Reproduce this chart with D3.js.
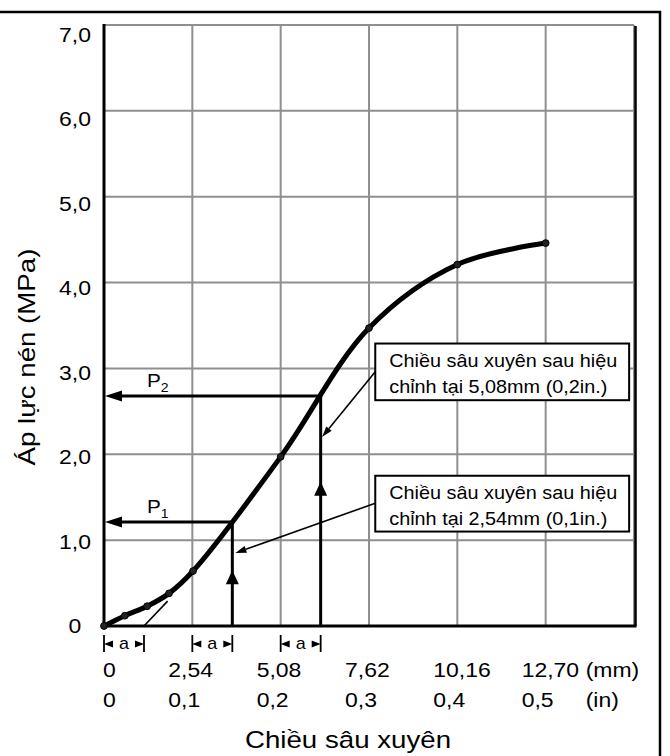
<!DOCTYPE html>
<html>
<head>
<meta charset="utf-8">
<script src="https://cdn.jsdelivr.net/npm/d3@7"></script>
<style>
  body { margin: 0; background: #fff; }
  svg { display: block; font-family: "Liberation Sans", Arial, sans-serif; }
</style>
</head>
<body>
<div id="container"><svg></svg></div>
<script>
// measured points of the load curve
const depthMm = [0, 0.60, 1.24, 1.87, 2.56, 5.08, 7.62, 10.16, 12.70];
const pressureMPa = [0, 0.12, 0.23, 0.38, 0.64, 1.97, 3.47, 4.21, 4.46];

// axis ticks
const yTicks = [0, 1, 2, 3, 4, 5, 6, 7];
const yTickLabels = ['0', '1,0', '2,0', '3,0', '4,0', '5,0', '6,0', '7,0'];
const xTicksMm = [0, 2.54, 5.08, 7.62, 10.16, 12.70];
const xLabelsMm = ['0', '2,54', '5,08', '7,62', '10,16', '12,70'];
const xLabelsIn = ['0', '0,1', '0,2', '0,3', '0,4', '0,5'];
const xGrid = [2.54, 5.08, 7.62, 10.16, 12.70, 15.24];

// correction: zero shift "a", corrected depths and read pressures
const zeroShift = 1.15;
const correctedDepths = [2.54, 5.08];
const readPressures = [1.21, 2.68];
const upArrowAt = [0.65, 1.68];
const pNames = ['1', '2'];
const tangent = [[1.15, 0], [1.83, 0.29]];

// annotation boxes (data units) and leader lines
const boxTexts = [
    ['Chiều sâu xuyên sau hiệu', 'chỉnh tại 2,54mm (0,1in.)'],
    ['Chiều sâu xuyên sau hiệu', 'chỉnh tại 5,08mm (0,2in.)']
];
const boxTop = [1.75, 3.29];
const boxBottom = [1.10, 2.63];
const boxLeft = 7.80, boxRight = 15.10;
const leaderFrom = [[7.80, 1.43], [7.80, 2.96]];
const leaderTo = [[3.78, 0.85], [6.27, 2.20]];

const width = 670, height = 756;
const SX = 1.12; // text in the picture is a bit wider than Arial

const svg = d3.select('svg').attr('width', width).attr('height', height);

const x = d3.scaleLinear().domain([0, 15.24]).range([104, 634]);
const y = d3.scaleLinear().domain([0, 7]).range([626, 25]);
const yLab = d3.scaleLinear().domain([0, 7]).range([633, 42]);

function label(g, px, py, str, size, anchor, rot) {
    return g.append('text')
        .attr('transform', `translate(${px},${py})${rot ? ' rotate(' + rot + ')' : ''} scale(${SX},1)`)
        .attr('font-size', size)
        .attr('text-anchor', anchor || 'start')
        .attr('fill', '#000')
        .text(str);
}

// outer frame (top and right only)
svg.append('path')
    .attr('d', `M0,12 H660 V${height}`)
    .attr('fill', 'none').attr('stroke', '#000').attr('stroke-width', 2.5);

// grid
const grid = svg.append('g').attr('stroke', '#8f8f8f').attr('stroke-width', 2);
grid.selectAll('line.h').data(yTicks.slice(1)).enter().append('line')
    .attr('x1', x(0)).attr('x2', x(15.24))
    .attr('y1', d => y(d)).attr('y2', d => y(d));
grid.selectAll('line.v').data(xGrid).enter().append('line')
    .attr('x1', d => x(d)).attr('x2', d => x(d))
    .attr('y1', y(0)).attr('y2', y(7));

// right edge + axes
svg.append('line').attr('x1', x(15.24) + 1.5).attr('x2', x(15.24) + 1.5)
    .attr('y1', y(7) + 1).attr('y2', y(0)).attr('stroke', '#000').attr('stroke-width', 2.5);
svg.append('line').attr('x1', x(0)).attr('x2', x(0)).attr('y1', y(7) - 1).attr('y2', y(0) + 1.5)
    .attr('stroke', '#000').attr('stroke-width', 3);
svg.append('line').attr('x1', x(0) - 1.5).attr('x2', x(15.24) + 2.5).attr('y1', y(0)).attr('y2', y(0))
    .attr('stroke', '#000').attr('stroke-width', 3);

// y tick labels
const yl = svg.append('g');
yTicks.forEach((v, i) => label(yl, 75, yLab(v), yTickLabels[i], 20.5, 'middle'));

// x tick labels, two rows
const xl = svg.append('g');
xTicksMm.forEach((v, i) => {
    let px = i === 0 ? x(v) - 1 : x(v) - 24;
    label(xl, px, 677, xLabelsMm[i], 20.5);
    label(xl, px, 707, xLabelsIn[i], 20.5);
});
label(xl, x(12.70) + 40, 677, '(mm)', 20.5);
label(xl, x(12.70) + 40, 707, '(in)', 20.5);

// axis titles
label(svg, 348, 748, 'Chiều sâu xuyên', 24.7, 'middle');
label(svg, 35, 357, 'Áp lực nén (MPa)', 24.7, 'middle', -90);

// tangent used for zero correction
svg.append('line')
    .attr('x1', x(tangent[0][0])).attr('y1', y(tangent[0][1]))
    .attr('x2', x(tangent[1][0])).attr('y2', y(tangent[1][1]))
    .attr('stroke', '#000').attr('stroke-width', 1.6);

// load curve
const pts = depthMm.map((d, i) => [d, pressureMPa[i]]);
const line = d3.line().x(d => x(d[0])).y(d => y(d[1])).curve(d3.curveCatmullRom.alpha(0.5));
svg.append('path').datum(pts)
    .attr('d', line)
    .attr('fill', 'none').attr('stroke', '#000').attr('stroke-width', 5)
    .attr('stroke-linecap', 'round');
svg.append('g').selectAll('circle').data(pts).enter().append('circle')
    .attr('cx', d => x(d[0])).attr('cy', d => y(d[1])).attr('r', 3.4)
    .attr('fill', '#222').attr('stroke', '#000').attr('stroke-width', 1);

// P1 / P2 construction lines
correctedDepths.forEach((d, i) => {
    let cx = x(d + zeroShift), cy = y(readPressures[i]);
    let g = svg.append('g');
    g.append('line').attr('x1', cx).attr('x2', cx).attr('y1', y(0)).attr('y2', cy)
        .attr('stroke', '#000').attr('stroke-width', 3);
    g.append('line').attr('x1', cx).attr('x2', x(0) + 14).attr('y1', cy).attr('y2', cy)
        .attr('stroke', '#000').attr('stroke-width', 3);
    // left arrowhead at the axis
    let ax = x(0) + 1;
    g.append('path').attr('d', `M${ax},${cy} L${ax + 17},${cy - 5.5} L${ax + 17},${cy + 5.5} Z`).attr('fill', '#000');
    // up arrowhead on the vertical
    let ty = y(upArrowAt[i]);
    g.append('path').attr('d', `M${cx},${ty} L${cx - 6.5},${ty + 14} L${cx + 6.5},${ty + 14} Z`).attr('fill', '#000');
    // label
    let t = g.append('text')
        .attr('transform', `translate(${x(0) + 43},${cy - 9}) scale(${SX},1)`)
        .attr('font-size', 18.5);
    t.append('tspan').text('P');
    t.append('tspan').attr('font-size', 12.5).attr('dy', 5).text(pNames[i]);
});

// "a" dimension marks under the axis
const am = svg.append('g');
[0, 2.54, 5.08].forEach(d => {
    let x0 = x(d), x1 = x(d + zeroShift);
    [[x0, 1], [x1, -1]].forEach(([px, dir]) => {
        am.append('line').attr('x1', px).attr('x2', px).attr('y1', 635).attr('y2', 652)
            .attr('stroke', '#000').attr('stroke-width', 1.8);
        am.append('path').attr('d', `M${px},644 L${px + dir * 9},640.5 L${px + dir * 9},647.5 Z`).attr('fill', '#000');
    });
    label(am, (x0 + x1) / 2, 649, 'a', 16, 'middle');
});

// annotation boxes with leaders
boxTexts.forEach((lines, i) => {
    let g = svg.append('g');
    let bx = x(boxLeft), by = y(boxTop[i]);
    g.append('rect')
        .attr('x', bx).attr('y', by)
        .attr('width', x(boxRight) - bx).attr('height', y(boxBottom[i]) - by)
        .attr('fill', '#fff').attr('stroke', '#000').attr('stroke-width', 2);
    lines.forEach((s, j) => label(g, bx + 14, by + 23 + j * 26, s, 17.7));

    let f = leaderFrom[i], t = leaderTo[i];
    let fx = x(f[0]), fy = y(f[1]), tx = x(t[0]), ty = y(t[1]);
    let ang = Math.atan2(ty - fy, tx - fx);
    let len = 11, hw = 3.5;
    let bxp = tx - len * Math.cos(ang), byp = ty - len * Math.sin(ang);
    g.append('line').attr('x1', fx).attr('y1', fy).attr('x2', bxp).attr('y2', byp)
        .attr('stroke', '#000').attr('stroke-width', 1.6);
    g.append('path')
        .attr('d', `M${tx},${ty} L${bxp - hw * Math.sin(ang)},${byp + hw * Math.cos(ang)} L${bxp + hw * Math.sin(ang)},${byp - hw * Math.cos(ang)} Z`)
        .attr('fill', '#000');
});
</script>
</body>
</html>
